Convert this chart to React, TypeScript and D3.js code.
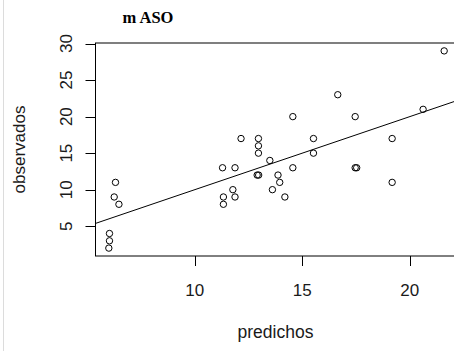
import React from "react";
import * as d3 from "d3";

const predichos = [6.0, 6.03, 6.03, 6.25, 6.31, 6.47, 11.29, 11.87, 12.15, 12.96, 12.96, 12.96, 12.9, 12.97, 13.49, 13.87, 13.61, 13.95, 11.77, 11.87, 11.33, 11.33, 21.6, 16.65, 14.56, 17.46, 20.62, 15.52, 19.18, 15.52, 14.56, 17.46, 17.53, 14.19, 19.18];
const observados = [2, 3, 4, 9, 11, 8, 13, 13, 17, 17, 16, 15, 12, 12, 14, 12, 10, 11, 10, 9, 9, 8, 29, 23, 20, 20, 21, 17, 17, 15, 13, 13, 13, 9, 11];
const xTicks = [10, 15, 20];
const yTicks = [5, 10, 15, 20, 25, 30];
const lineIntercept = 0;
const lineSlope = 1;
const title = "m ASO";
const xLabel = "predichos";
const yLabel = "observados";

export default function App() {
  const W = 454, H = 351;
  const left = 95.5, right = 457.5, top = 43, bottom = 256;
  const xDom = [5.38, 22.22];
  const yDom = [0.92, 30.08];
  const x = d3.scaleLinear().domain(xDom).range([left, right]);
  const y = d3.scaleLinear().domain(yDom).range([bottom, top]);
  const lx = xDom;
  const ly = lx.map((v) => lineIntercept + lineSlope * v);
  const font = "'Liberation Sans', Arial, sans-serif";
  return (
    <svg width={W} height={H} style={{ position: "absolute", left: 0, top: 0, background: "#fff" }}>
      <defs>
        <clipPath id="plotclip">
          <rect x={left} y={top} width={right - left} height={bottom - top} />
        </clipPath>
      </defs>
      <line x1={3.5} x2={3.5} y1={0} y2={H} stroke="#dcdcdc" strokeWidth={1} />
      <text x={122.5} y={22.5} fontFamily="'Liberation Serif', 'Times New Roman', serif" fontWeight="bold" fontSize={16.5} fill="#000">{title}</text>
      <rect x={left} y={top} width={right - left} height={bottom - top} fill="none" stroke="#000" strokeWidth={1} />
      {xTicks.map((t) => (
        <g key={"x" + t}>
          <line x1={Math.round(x(t)) + 0.5} x2={Math.round(x(t)) + 0.5} y1={bottom} y2={bottom + 10} stroke="#000" />
          <text x={x(t)} y={296} textAnchor="middle" fontFamily={font} fontSize={17} fill="#1a1a1a">{t}</text>
        </g>
      ))}
      {yTicks.map((t) => (
        <g key={"y" + t}>
          <line x1={left - 10} x2={left} y1={Math.round(y(t)) + 0.5} y2={Math.round(y(t)) + 0.5} stroke="#000" />
          <text transform={`translate(72,${y(t)}) rotate(-90)`} textAnchor="middle" fontFamily={font} fontSize={17} fill="#1a1a1a">{t}</text>
        </g>
      ))}
      <text x={(left + right) / 2 - 1} y={338} textAnchor="middle" fontFamily={font} fontSize={17.5} fill="#1a1a1a">{xLabel}</text>
      <text transform={`translate(25,${(top + bottom) / 2}) rotate(-90)`} textAnchor="middle" fontFamily={font} fontSize={17} fill="#1a1a1a">{yLabel}</text>
      <g clipPath="url(#plotclip)">
        <line x1={x(lx[0])} y1={y(ly[0])} x2={x(lx[1])} y2={y(ly[1])} stroke="#000" strokeWidth={1} />
      </g>
      {predichos.map((p, i) => (
        <circle key={i} cx={x(p)} cy={y(observados[i])} r={3.2} fill="none" stroke="#000" strokeWidth={1} />
      ))}
    </svg>
  );
}
